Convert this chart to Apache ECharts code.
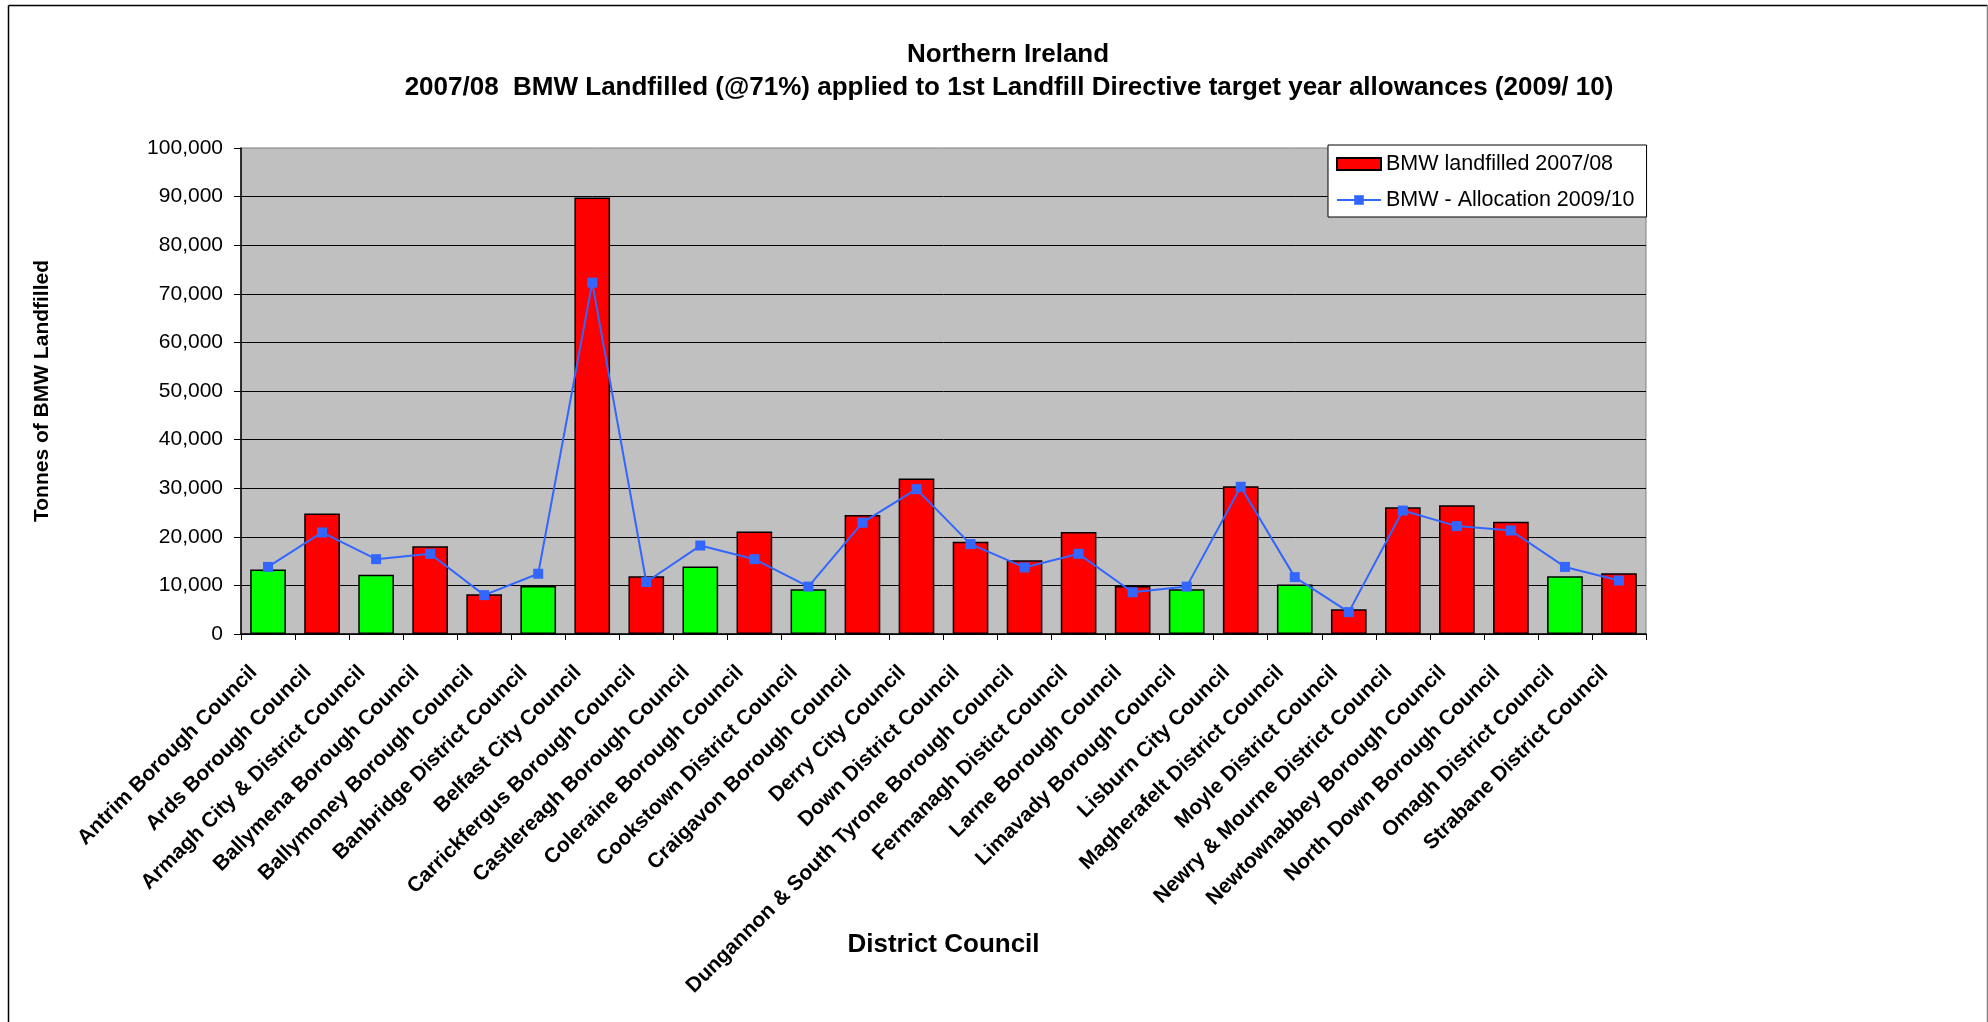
<!DOCTYPE html>
<html>
<head>
<meta charset="utf-8">
<script src="https://cdn.jsdelivr.net/npm/echarts@6/dist/echarts.min.js"></script>
<style>html,body{margin:0;padding:0;background:#fff;}#chart{width:1988px;height:1022px;}</style>
</head>
<body>
<div id="chart"></div>
<script>
var councils = ["Antrim Borough Council","Ards Borough Council","Armagh City & District Council","Ballymena Borough Council","Ballymoney Borough Council","Banbridge District Council","Belfast City Council","Carrickfergus Borough Council","Castlereagh Borough Council","Coleraine Borough Council","Cookstown District Council","Craigavon Borough Council","Derry City Council","Down District Council","Dungannon & South Tyrone Borough Council","Fermanagh Distict Council","Larne Borough Council","Limavady Borough Council","Lisburn City Council","Magherafelt District Council","Moyle District Council","Newry & Mourne District Council","Newtownabbey Borough Council","North Down Borough Council","Omagh District Council","Strabane District Council"];
var landfilled = [13250, 24800, 12200, 18050, 8200, 9900, 89800, 11900, 13900, 21100, 9200, 24500, 32000, 19000, 15200, 21000, 9900, 9200, 30400, 10200, 5100, 26100, 26500, 23100, 11900, 12500];
var allocation = [13800, 20900, 15400, 16500, 8000, 12400, 72300, 10700, 18200, 15400, 9750, 22900, 29800, 18500, 13700, 16500, 8600, 9750, 30300, 11700, 4500, 25400, 22200, 21300, 13800, 11000];
var yTicks = {min: 0, max: 100000, interval: 10000};
var titleLines = ["Northern Ireland", "2007/08  BMW Landfilled (@71%) applied to 1st Landfill Directive target year allowances (2009/ 10)"];

var FONT = 'Arial, "Liberation Sans", sans-serif';
var chart = echarts.init(document.getElementById('chart'), null, {renderer: 'canvas'});

var barData = landfilled.map(function (v, i) {
  return {value: v, itemStyle: {color: v > allocation[i] ? '#FF0000' : '#00FF00'}};
});

chart.setOption({
  animation: false,
  backgroundColor: '#ffffff',
  textStyle: {fontFamily: FONT},
  title: [
    {text: titleLines[0], left: 1003, top: 37, textAlign: 'center',
     textStyle: {fontFamily: FONT, fontSize: 26, fontWeight: 'bold', color: '#000'}},
    {text: titleLines[1], left: 1004, top: 70, textAlign: 'center',
     textStyle: {fontFamily: FONT, fontSize: 26, fontWeight: 'bold', color: '#000'}}
  ],
  graphic: [
    {type: 'line', shape: {x1: 8.5, y1: 5.5, x2: 8.5, y2: 1030}, style: {stroke: '#000', lineWidth: 1.5}, silent: true},
    {type: 'line', shape: {x1: 8.5, y1: 5.5, x2: 1987.5, y2: 5.5}, style: {stroke: '#000', lineWidth: 1.5}, silent: true},
    {type: 'line', shape: {x1: 1987.5, y1: 5.5, x2: 1987.5, y2: 1030}, style: {stroke: '#808080', lineWidth: 1.5}, silent: true}
  ],
  legend: {
    orient: 'vertical',
    left: 1328, top: 145,
    padding: [8, 12, 6, 8],
    itemWidth: 44, itemHeight: 12, itemGap: 14,
    backgroundColor: '#ffffff',
    borderColor: '#000', borderWidth: 1,
    textStyle: {fontFamily: FONT, fontSize: 21.5, color: '#000'},
    data: [{name: 'BMW landfilled 2007/08', icon: 'rect'}, {name: 'BMW - Allocation 2009/10'}]
  },
  grid: {
    left: 241, right: 342, top: 148, bottom: 388,
    show: true, backgroundColor: '#C0C0C0', borderColor: '#808080', borderWidth: 1,
    containLabel: false
  },
  xAxis: {
    type: 'category',
    data: councils,
    name: 'District Council',
    nameLocation: 'middle',
    nameGap: 298,
    nameMoveOverlap: false,
    nameTextStyle: {fontFamily: FONT, fontSize: 26, fontWeight: 'bold', color: '#000'},
    axisLine: {show: true, lineStyle: {color: '#000', width: 1.5}},
    axisTick: {show: true, length: 6, lineStyle: {color: '#000'}},
    axisLabel: {rotate: 45, interval: 0, margin: 21, padding: [0, 20, 0, 0], fontFamily: FONT, fontSize: 21, fontWeight: 'bold', color: '#000'},
    splitLine: {show: false}
  },
  yAxis: {
    type: 'value',
    min: yTicks.min, max: yTicks.max, interval: yTicks.interval,
    name: 'Tonnes of BMW Landfilled',
    nameLocation: 'middle',
    nameRotate: 90,
    nameGap: 188,
    nameMoveOverlap: false,
    nameTextStyle: {fontFamily: FONT, fontSize: 21, fontWeight: 'bold', color: '#000'},
    axisLine: {show: true, lineStyle: {color: '#000', width: 1.5}},
    axisTick: {show: true, length: 7, inside: false, lineStyle: {color: '#000'}},
    axisLabel: {margin: 18, fontFamily: FONT, fontSize: 21, color: '#000',
      formatter: function (v) { return v.toString().replace(/\B(?=(\d{3})+(?!\d))/g, ','); }},
    splitLine: {show: true, showMaxLine: false, lineStyle: {color: '#000', width: 1}}
  },
  series: [
    {
      name: 'BMW landfilled 2007/08',
      type: 'bar',
      data: barData,
      barCategoryGap: '34%',
      itemStyle: {color: '#FF0000', borderColor: '#000', borderWidth: 1.5}
    },
    {
      name: 'BMW - Allocation 2009/10',
      type: 'line',
      data: allocation,
      symbol: 'rect',
      symbolSize: 10,
      lineStyle: {color: '#3366FF', width: 2},
      itemStyle: {color: '#3366FF'},
      z: 5
    }
  ]
});
</script>
</body>
</html>
